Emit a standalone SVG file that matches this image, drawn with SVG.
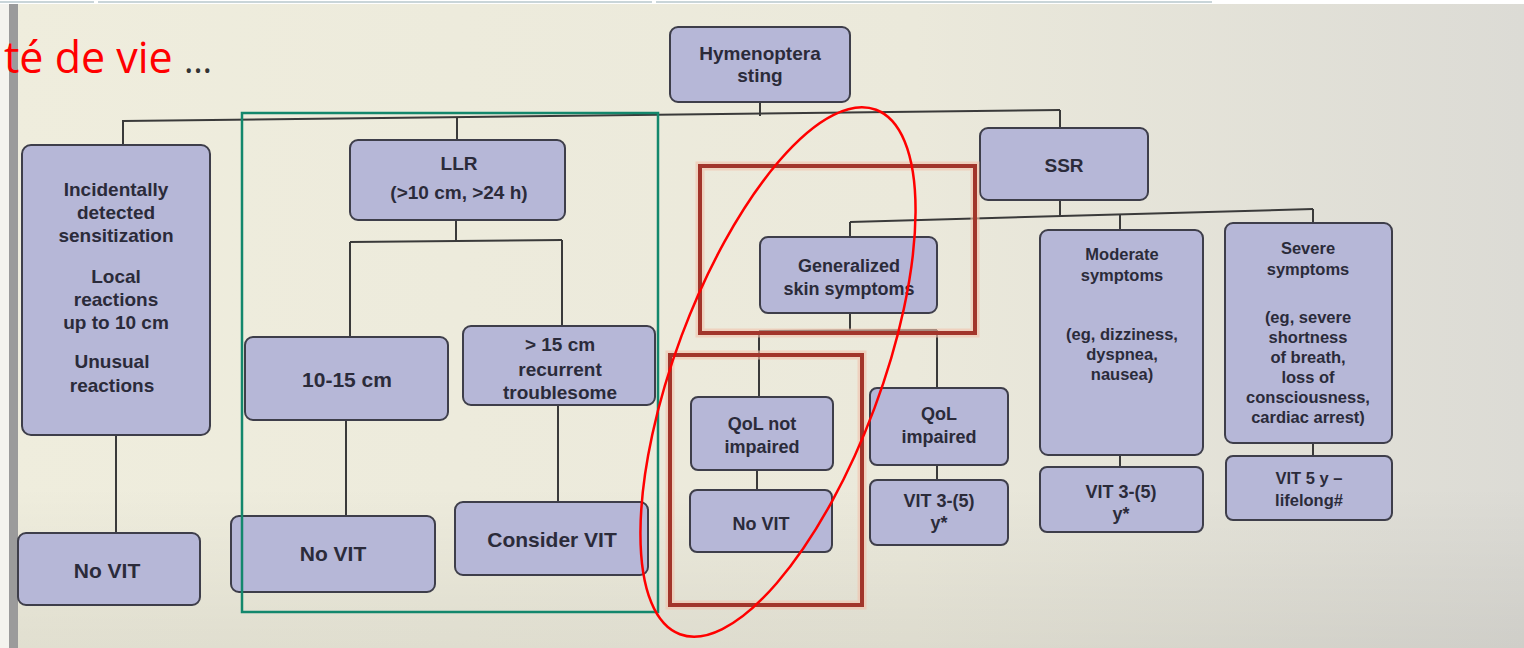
<svg xmlns="http://www.w3.org/2000/svg" width="1524" height="648" viewBox="0 0 1524 648">
<defs>
<linearGradient id="bg" x1="0" y1="0" x2="1" y2="0">
<stop offset="0" stop-color="#efeddd"/>
<stop offset="0.6" stop-color="#ebe9db"/>
<stop offset="1" stop-color="#dcdbd5"/>
</linearGradient>
<linearGradient id="shade" x1="0" y1="0" x2="0" y2="1">
<stop offset="0.75" stop-color="#000" stop-opacity="0"/>
<stop offset="1" stop-color="#000" stop-opacity="0.06"/>
</linearGradient>
</defs>
<style>
.box{fill:#b6b7d7;stroke:#3e3e4a;stroke-width:2}
.t{font-family:"Liberation Sans",Arial,sans-serif;font-weight:bold;fill:#2b2b3a;text-anchor:middle}
.s22{font-size:21px}
.s20{font-size:19px}
.s19{font-size:18px}
.s18{font-size:16.5px}
.c{stroke:#3a3a3a;stroke-width:2;fill:none}
.hl{fill:none;stroke:#a2352b;stroke-width:4}
.halo{fill:none;stroke:#f2c2ab;stroke-width:9}
</style>
<rect x="0" y="0" width="1524" height="648" fill="url(#bg)"/>
<rect x="0" y="0" width="1524" height="648" fill="url(#shade)"/>
<rect x="0" y="0" width="1524" height="4" fill="#ffffff"/>
<line x1="0" y1="2" x2="94" y2="2" stroke="#c9d5d9" stroke-width="2"/>
<line x1="98" y1="2" x2="652" y2="2" stroke="#c9d5d9" stroke-width="2"/>
<line x1="656" y1="2" x2="1212" y2="2" stroke="#c9d5d9" stroke-width="2"/>
<rect x="0" y="4" width="9" height="644" fill="#f4f3ee"/>
<rect x="9" y="4" width="9" height="644" fill="#9b9b9b"/>

<text x="4" y="73" font-family="'Open Sans','Liberation Sans',sans-serif" font-size="43" fill="#ff0000">té de vie <tspan fill="#333333" font-size="36">…</tspan></text>

<g id="connectors">
<line class="c" x1="760" y1="102" x2="760" y2="116"/>
<line class="c" x1="123" y1="121" x2="1060" y2="110"/>
<line class="c" x1="123" y1="120" x2="123" y2="145"/>
<line class="c" x1="457" y1="117" x2="457" y2="140"/>
<line class="c" x1="1060" y1="110" x2="1060" y2="128"/>
<line class="c" x1="456" y1="220" x2="456" y2="241"/>
<line class="c" x1="350" y1="242" x2="562" y2="240"/>
<line class="c" x1="350" y1="242" x2="350" y2="338"/>
<line class="c" x1="562" y1="240" x2="562" y2="327"/>
<line class="c" x1="346" y1="420" x2="346" y2="518"/>
<line class="c" x1="558" y1="405" x2="558" y2="504"/>
<line class="c" x1="116" y1="435" x2="116" y2="535"/>
<line class="c" x1="1060" y1="200" x2="1060" y2="216"/>
<line class="c" x1="850" y1="222" x2="1313" y2="209"/>
<line class="c" x1="850" y1="222" x2="850" y2="238"/>
<line class="c" x1="1120" y1="214" x2="1120" y2="230"/>
<line class="c" x1="1313" y1="209" x2="1313" y2="224"/>
<line class="c" x1="850" y1="313" x2="850" y2="331"/>
<line class="c" x1="759" y1="331" x2="937" y2="330"/>
<line class="c" x1="759" y1="331" x2="759" y2="398"/>
<line class="c" x1="937" y1="330" x2="937" y2="389"/>
<line class="c" x1="757" y1="470" x2="757" y2="491"/>
<line class="c" x1="937" y1="465" x2="937" y2="481"/>
<line class="c" x1="1120" y1="455" x2="1120" y2="468"/>
<line class="c" x1="1313" y1="443" x2="1313" y2="457"/>
</g>

<g id="n-hymenoptera">
<rect class="box" x="670" y="27" width="180" height="75" rx="8"/>
<text class="t s20" x="760" y="60">Hymenoptera</text>
<text class="t s20" x="760" y="82">sting</text>
</g>
<g id="n-incidentally">
<rect class="box" x="22" y="145" width="188" height="290" rx="9"/>
<text class="t s20" x="116" y="196">Incidentally</text>
<text class="t s20" x="116" y="219">detected</text>
<text class="t s20" x="116" y="242">sensitization</text>
<text class="t s20" x="116" y="283">Local</text>
<text class="t s20" x="116" y="306">reactions</text>
<text class="t s20" x="116" y="329">up to 10 cm</text>
<text class="t s20" x="112" y="368">Unusual</text>
<text class="t s20" x="112" y="392">reactions</text>
</g>
<g id="n-novit1">
<rect class="box" x="18" y="533" width="182" height="72" rx="8"/>
<text class="t s22" x="107" y="578">No VIT</text>
</g>
<g id="n-llr">
<rect class="box" x="350" y="140" width="215" height="80" rx="8"/>
<text class="t s20" x="459" y="170">LLR</text>
<text class="t s20" x="459" y="199">(&gt;10 cm, &gt;24 h)</text>
</g>
<g id="n-1015">
<rect class="box" x="245" y="337" width="203" height="83" rx="8"/>
<text class="t s22" x="347" y="387">10-15 cm</text>
</g>
<g id="n-15">
<rect class="box" x="463" y="326" width="192" height="79" rx="8"/>
<text class="t s20" x="560" y="351">&gt; 15 cm</text>
<text class="t s20" x="560" y="376">recurrent</text>
<text class="t s20" x="560" y="399">troublesome</text>
</g>
<g id="n-novit2">
<rect class="box" x="231" y="516" width="204" height="76" rx="8"/>
<text class="t s22" x="333" y="561">No VIT</text>
</g>
<g id="n-consider">
<rect class="box" x="455" y="502" width="193" height="73" rx="8"/>
<text class="t s22" x="552" y="547">Consider  VIT</text>
</g>

<g id="green-box">
<rect x="242" y="113" width="416" height="499" fill="none" stroke="#13876c" stroke-width="2.5"/>
</g>

<g id="n-ssr">
<rect class="box" x="980" y="128" width="168" height="72" rx="8"/>
<text class="t s20" x="1064" y="172">SSR</text>
</g>
<g id="n-generalized">
<rect class="box" x="760" y="237" width="177" height="76" rx="8"/>
<text class="t s19" x="849" y="272">Generalized</text>
<text class="t s19" x="849" y="295">skin symptoms</text>
</g>
<g id="n-qolnot">
<rect class="box" x="691" y="397" width="142" height="73" rx="7"/>
<text class="t s19" x="762" y="430">QoL not</text>
<text class="t s19" x="762" y="453">impaired</text>
</g>
<g id="n-novit3">
<rect class="box" x="690" y="490" width="142" height="62" rx="7"/>
<text class="t s19" x="761" y="530">No VIT</text>
</g>
<g id="n-qolimp">
<rect class="box" x="870" y="388" width="138" height="77" rx="7"/>
<text class="t s19" x="939" y="420">QoL</text>
<text class="t s19" x="939" y="443">impaired</text>
</g>
<g id="n-vit35a">
<rect class="box" x="870" y="480" width="138" height="65" rx="7"/>
<text class="t s19" x="939" y="507">VIT 3-(5)</text>
<text class="t s19" x="939" y="529">y*</text>
</g>
<g id="n-moderate">
<rect class="box" x="1040" y="230" width="163" height="225" rx="8"/>
<text class="t s18" x="1122" y="260">Moderate</text>
<text class="t s18" x="1122" y="281">symptoms</text>
<text class="t s18" x="1122" y="340">(eg, dizziness,</text>
<text class="t s18" x="1122" y="360">dyspnea,</text>
<text class="t s18" x="1122" y="380">nausea)</text>
</g>
<g id="n-vit35b">
<rect class="box" x="1040" y="467" width="163" height="65" rx="7"/>
<text class="t s19" x="1121" y="498">VIT 3-(5)</text>
<text class="t s19" x="1121" y="520">y*</text>
</g>
<g id="n-severe">
<rect class="box" x="1225" y="223" width="167" height="220" rx="8"/>
<text class="t s18" x="1308" y="254">Severe</text>
<text class="t s18" x="1308" y="275">symptoms</text>
<text class="t s18" x="1308" y="323">(eg, severe</text>
<text class="t s18" x="1308" y="343">shortness</text>
<text class="t s18" x="1308" y="363">of breath,</text>
<text class="t s18" x="1308" y="383">loss of</text>
<text class="t s18" x="1308" y="403">consciousness,</text>
<text class="t s18" x="1308" y="423">cardiac arrest)</text>
</g>
<g id="n-vit5">
<rect class="box" x="1226" y="456" width="166" height="64" rx="7"/>
<text class="t s18" x="1309" y="484">VIT 5 y –</text>
<text class="t s18" x="1309" y="506">lifelong#</text>
</g>

<g id="highlights">
<rect class="halo" x="700" y="166" width="275" height="167" opacity="0.6"/>
<rect class="hl" x="700" y="166" width="275" height="167"/>
<rect class="halo" x="670" y="355" width="192" height="250" opacity="0.6"/>
<rect class="hl" x="670" y="355" width="192" height="250"/>
<ellipse cx="778" cy="372" rx="103" ry="280" transform="rotate(20.5 778 372)" fill="none" stroke="#ff0000" stroke-width="2.5"/>
</g>
</svg>
